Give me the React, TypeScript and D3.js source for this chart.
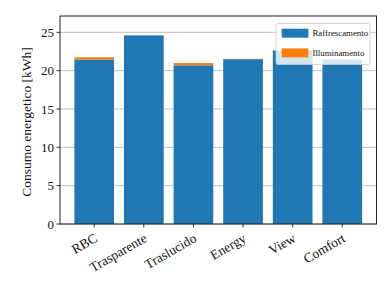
import React from "react";
import * as d3 from "d3";

const categories = ["RBC", "Trasparente", "Traslucido", "Energy", "View", "Comfort"];
const raffrescamento = [21.45, 24.6, 20.7, 21.5, 22.65, 21.45];
const illuminamento = [0.3, 0.0, 0.3, 0.05, 0.0, 0.0];
const yTicks = [0, 5, 10, 15, 20, 25];
const seriesNames = ["Raffrescamento", "Illuminamento"];
const colors = ["#1f77b4", "#ff7f0e"];

const W = 389;
const H = 282;
const left = 60;
const right = 376.5;
const top = 16;
const bottom = 224;
const font = "'Liberation Serif', 'Times New Roman', serif";

export default function App() {
  const x = d3.scaleLinear().domain([-0.69, 5.69]).range([left, right]);
  const y = d3.scaleLinear().domain([0, 27.13]).range([bottom, top]);
  const bw = x(0.4) - x(-0.4);

  return (
    <svg width={W} height={H} style={{ position: "absolute", left: 0, top: 0 }}>
      <rect x={0} y={0} width={W} height={H} fill="#fff" />
      {yTicks.map((t) => (
        <line key={"g" + t} x1={left} x2={right} y1={y(t)} y2={y(t)} stroke="#b0b0b0" strokeWidth={0.8} />
      ))}
      {categories.map((c, i) => (
        <g key={c}>
          <rect x={x(i) - bw / 2} width={bw} y={y(raffrescamento[i])} height={y(0) - y(raffrescamento[i])} fill={colors[0]} />
          <rect
            x={x(i) - bw / 2}
            width={bw}
            y={y(raffrescamento[i] + illuminamento[i])}
            height={y(raffrescamento[i]) - y(raffrescamento[i] + illuminamento[i])}
            fill={colors[1]}
          />
        </g>
      ))}
      <rect x={left} y={top} width={right - left} height={bottom - top} fill="none" stroke="#222" strokeWidth={1} />
      {yTicks.map((t) => (
        <g key={"y" + t}>
          <line x1={left - 3.5} x2={left} y1={y(t)} y2={y(t)} stroke="#000" strokeWidth={0.8} />
          <text x={left - 6} y={y(t)} dy="0.35em" textAnchor="end" fontFamily={font} fontSize={13} fill="#111">
            {t}
          </text>
        </g>
      ))}
      {categories.map((c, i) => (
        <g key={"x" + c}>
          <line x1={x(i)} x2={x(i)} y1={bottom} y2={bottom + 3.5} stroke="#000" strokeWidth={0.8} />
          <text
            transform={`translate(${x(i) - 1},${bottom + 8}) rotate(-30)`}
            textAnchor="end"
            dy="0.75em"
            fontFamily={font}
            fontSize={13.5}
            fill="#111"
          >
            {c}
          </text>
        </g>
      ))}
      <text
        transform={`translate(${26},${(top + bottom) / 2 + 2}) rotate(-90)`}
        textAnchor="middle"
        dy="0.35em"
        fontFamily={font}
        fontSize={13.5}
        fill="#111"
      >
        Consumo energetico [kWh]
      </text>
      <g>
        <rect x={276} y={23.5} width={94} height={41} rx={2} fill="#fff" fillOpacity={0.8} stroke="#ccc" strokeWidth={0.8} />
        {seriesNames.map((s, i) => (
          <g key={s}>
            <rect x={281.7} y={28.7 + i * 19.7} width={26.7} height={9} fill={colors[i]} />
            <text x={312.5} y={33.2 + i * 19.7} dy="0.35em" fontFamily={font} fontSize={8.8} fill="#111">
              {s}
            </text>
          </g>
        ))}
      </g>
    </svg>
  );
}
